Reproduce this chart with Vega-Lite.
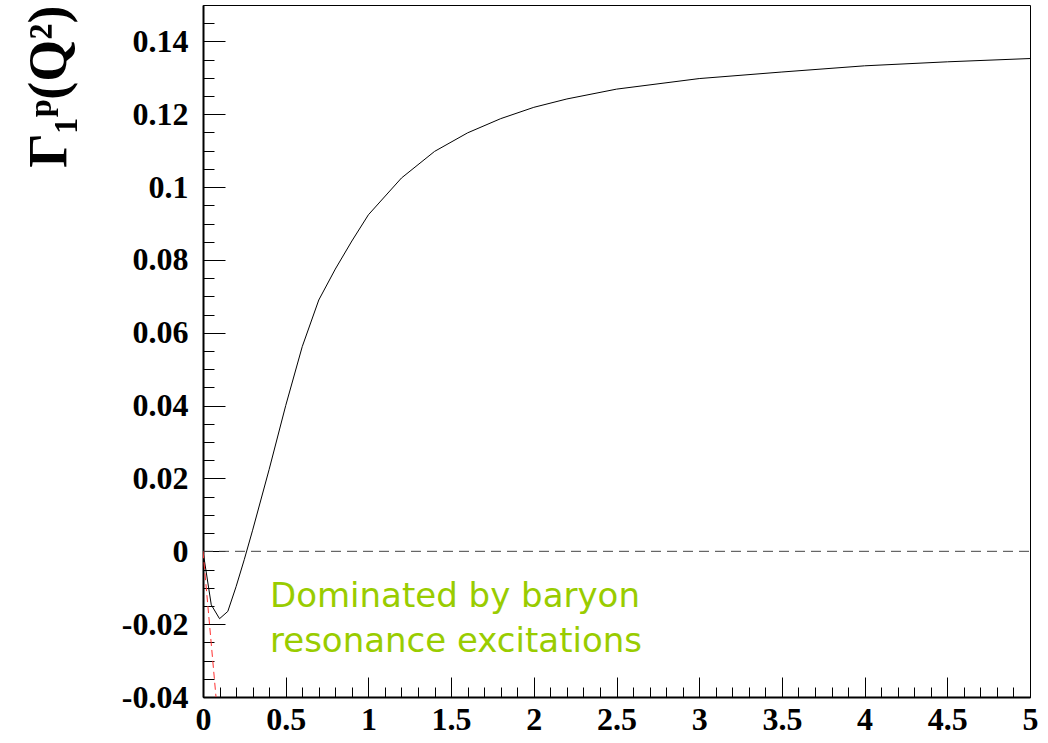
{
  "$schema": "https://vega.github.io/schema/vega-lite/v6.json",
  "width": 827,
  "height": 692,
  "autosize": {"type": "none"},
  "padding": {"left": 203, "top": 5, "right": 18, "bottom": 46},
  "background": "white",
  "config": {
    "view": {"stroke": "#000000", "strokeWidth": 1},
    "axis": {
      "labelFont": "Liberation Serif",
      "labelFontWeight": "bold",
      "labelFontSize": 32,
      "labelColor": "#000000",
      "labelOverlap": false,
      "labelFlush": false,
      "labelBound": false,
      "grid": false,
      "domainColor": "#000000",
      "domainWidth": 2,
      "tickColor": "#000000",
      "tickWidth": 1
    }
  },
  "datasets": {
    "curve": [
      {"q2": 0, "g1": 0},
      {"q2": 0.05, "g1": -0.0147},
      {"q2": 0.1, "g1": -0.0185},
      {"q2": 0.15, "g1": -0.0165},
      {"q2": 0.2, "g1": -0.0097},
      {"q2": 0.25, "g1": -0.0022},
      {"q2": 0.3, "g1": 0.0058},
      {"q2": 0.4, "g1": 0.0225},
      {"q2": 0.5, "g1": 0.04},
      {"q2": 0.6, "g1": 0.0562},
      {"q2": 0.7, "g1": 0.069},
      {"q2": 0.8, "g1": 0.0775},
      {"q2": 0.9, "g1": 0.0852},
      {"q2": 1.0, "g1": 0.0924},
      {"q2": 1.2, "g1": 0.1025},
      {"q2": 1.4, "g1": 0.1098},
      {"q2": 1.6, "g1": 0.1149},
      {"q2": 1.8, "g1": 0.1188},
      {"q2": 2.0, "g1": 0.1219},
      {"q2": 2.2, "g1": 0.1242},
      {"q2": 2.5, "g1": 0.1269},
      {"q2": 3.0, "g1": 0.1298},
      {"q2": 3.5, "g1": 0.1316},
      {"q2": 4.0, "g1": 0.1333},
      {"q2": 4.5, "g1": 0.1344},
      {"q2": 5.0, "g1": 0.1353}
    ],
    "zero": [
      {"q2": 0, "g1": 0},
      {"q2": 5, "g1": 0}
    ],
    "gdh": [
      {"q2": 0, "g1": 0},
      {"q2": 0.0786, "g1": -0.04}
    ],
    "note": [
      {"q2": 0.405, "g1": -0.0153, "label": "Dominated by baryon"},
      {"q2": 0.405, "g1": -0.0276, "label": "resonance excitations"}
    ]
  },
  "resolve": {"axis": {"x": "independent", "y": "independent"}},
  "layer": [
    {
      "data": {"name": "zero"},
      "mark": {"type": "line", "color": "#444444", "strokeWidth": 1, "strokeDash": [10, 6], "clip": true},
      "encoding": {
        "x": {
          "field": "q2",
          "type": "quantitative",
          "scale": {"domain": [0, 5], "nice": false, "zero": false},
          "axis": {
            "orient": "bottom",
            "title": null,
            "values": [0, 0.5, 1, 1.5, 2, 2.5, 3, 3.5, 4, 4.5, 5],
            "labelExpr": "toString(datum.value)",
            "tickSize": -20,
            "labelPadding": 27,
            "labelBaseline": "top"
          }
        },
        "y": {
          "field": "g1",
          "type": "quantitative",
          "scale": {"domain": [-0.04, 0.15], "nice": false, "zero": false},
          "axis": {
            "orient": "left",
            "title": "Γ₁ᵖ(Q²)",
            "titleFont": "Liberation Serif",
            "titleFontWeight": "bold",
            "titleFontSize": 54,
            "titleColor": "#000000",
            "titleAngle": -90,
            "titleAlign": "right",
            "titleBaseline": "alphabetic",
            "titleX": -138,
            "titleY": 0,
            "values": [-0.04, -0.02, 0, 0.02, 0.04, 0.06, 0.08, 0.1, 0.12, 0.14],
            "labelExpr": "toString(datum.value)",
            "tickSize": -22,
            "labelPadding": 37,
            "labelBaseline": "middle"
          }
        }
      }
    },
    {
      "data": {"name": "curve"},
      "mark": {"type": "line", "color": "#000000", "strokeWidth": 1, "clip": true},
      "encoding": {
        "x": {
          "field": "q2",
          "type": "quantitative",
          "scale": {"domain": [0, 5], "nice": false, "zero": false},
          "axis": {
            "orient": "bottom",
            "title": null,
            "domain": false,
            "labels": false,
            "values": [0, 0.1, 0.2, 0.3, 0.4, 0.5, 0.6, 0.7, 0.8, 0.9, 1, 1.1, 1.2, 1.3, 1.4, 1.5, 1.6, 1.7, 1.8, 1.9, 2, 2.1, 2.2, 2.3, 2.4, 2.5, 2.6, 2.7, 2.8, 2.9, 3, 3.1, 3.2, 3.3, 3.4, 3.5, 3.6, 3.7, 3.8, 3.9, 4, 4.1, 4.2, 4.3, 4.4, 4.5, 4.6, 4.7, 4.8, 4.9, 5],
            "tickSize": -10
          }
        },
        "y": {
          "field": "g1",
          "type": "quantitative",
          "scale": {"domain": [-0.04, 0.15], "nice": false, "zero": false},
          "axis": {
            "orient": "left",
            "title": null,
            "domain": false,
            "labels": false,
            "values": [-0.04, -0.035, -0.03, -0.025, -0.02, -0.015, -0.01, -0.005, 0, 0.005, 0.01, 0.015, 0.02, 0.025, 0.03, 0.035, 0.04, 0.045, 0.05, 0.055, 0.06, 0.065, 0.07, 0.075, 0.08, 0.085, 0.09, 0.095, 0.1, 0.105, 0.11, 0.115, 0.12, 0.125, 0.13, 0.135, 0.14, 0.145, 0.15],
            "tickSize": -11
          }
        }
      }
    },
    {
      "data": {"name": "gdh"},
      "mark": {"type": "line", "color": "#ff3030", "strokeWidth": 1, "strokeDash": [7, 4], "clip": true},
      "encoding": {
        "x": {"field": "q2", "type": "quantitative", "axis": null},
        "y": {"field": "g1", "type": "quantitative", "axis": null}
      }
    },
    {
      "data": {"name": "note"},
      "mark": {"type": "text", "align": "left", "baseline": "alphabetic", "font": "DejaVu Sans", "fontSize": 34, "color": "#99cc00"},
      "encoding": {
        "x": {"field": "q2", "type": "quantitative", "axis": null},
        "y": {"field": "g1", "type": "quantitative", "axis": null},
        "text": {"field": "label"}
      }
    }
  ]
}
